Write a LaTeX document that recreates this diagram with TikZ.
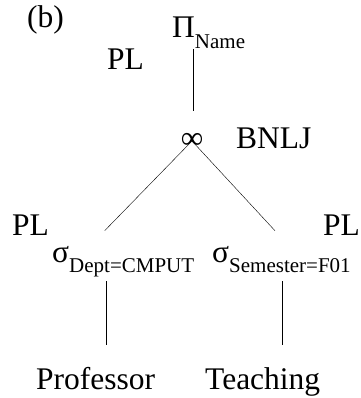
\documentclass[tikz,border=0pt]{standalone}
\usepackage{fontspec}
\setmainfont{Liberation Serif}
\usetikzlibrary{positioning}
\newcommand{\lowsub}[1]{\raisebox{-10.5pt}{\fontsize{21}{24}\selectfont #1}}

\begin{document}
\begin{tikzpicture}[x=1pt,y=-1pt,
    every node/.style={inner sep=0pt,font=\fontsize{31.5}{36}\selectfont},
    op/.style={anchor=base west},
    tag/.style={anchor=base west}]
    \useasboundingbox (0,0) rectangle (360,398);
    \node[tag] (fig)     at (27,28)   {(b)};
    \node[op]  (proj)    at (172,38)  {Π\lowsub{Name}};
    \node[tag] (pltop)   at (107,70)  {PL};
    \node      (join)    at (192,141) {∞};
    \node[tag] (bnlj)    at (236,148) {BNLJ};
    \node[tag] (plleft)  at (12,235)  {PL};
    \node[tag] (plright) at (323,235) {PL};
    \node[op]  (selp)    at (52,262)  {σ\lowsub{Dept=CMPUT}};
    \node[op]  (selt)    at (212,262) {σ\lowsub{Semester=F01}};
    \node[op]  (prof)    at (36,389)  {Professor};
    \node[op]  (teach)   at (205,389) {Teaching};

    \draw[shorten >=22pt] ([xshift=1pt]proj.south -| join) -- ([xshift=1pt]join.north);
    \draw (join.center) -- ([xshift=-18.5pt,yshift=15pt]selp.north);
    \draw (join.center) -- ([xshift=-6.5pt,yshift=15pt]selt.north);
    \draw[shorten <=4pt,shorten >=22pt] ([xshift=-17.5pt]selp.south)
        -- ([xshift=-17.5pt]selp.south |- prof.north);
    \draw[shorten <=8.5pt,shorten >=22pt] ([xshift=0.5pt]selt.south)
        -- ([xshift=0.5pt]selt.south |- teach.north);
\end{tikzpicture}
\end{document}
